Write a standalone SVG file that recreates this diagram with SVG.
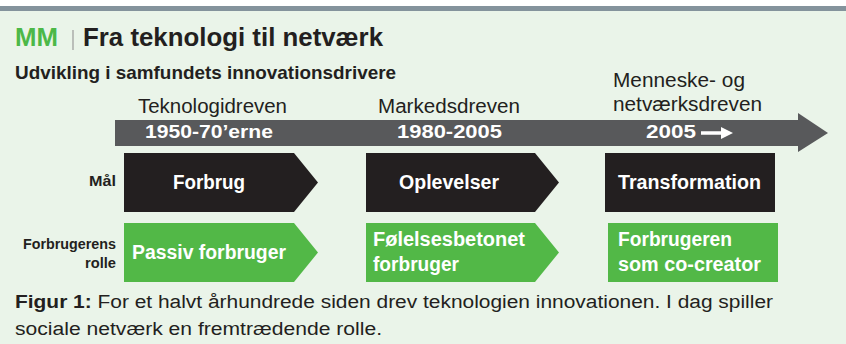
<svg xmlns="http://www.w3.org/2000/svg" width="846" height="344" viewBox="0 0 846 344">
<style>
text{font-family:"Liberation Sans",Arial,sans-serif;}
.dark{fill:#231f20;}
.b{font-weight:bold;}
.era{font-size:20px;fill:#231f20;}
.yr{font-size:19px;fill:#ffffff;font-weight:bold;}
.box{font-size:20px;fill:#ffffff;font-weight:bold;}
.lbl{font-size:14px;fill:#231f20;font-weight:bold;}
.blk{fill:#231f20;}
.grn{fill:#52b847;}
</style>
<rect x="0" y="0" width="846" height="344" fill="#ffffff"/>
<rect x="0" y="11" width="846" height="333" fill="#eaf4e9"/>
<rect x="0" y="6" width="846" height="5" fill="#84939c"/>

<g id="title">
<text x="15" y="46" font-size="25" font-weight="bold" fill="#4cb848" textLength="43" lengthAdjust="spacingAndGlyphs">MM</text>
<line x1="73" y1="30" x2="73" y2="50" stroke="#9a9a9a" stroke-width="1.2"/>
<text x="83" y="46" font-size="26" class="dark b" textLength="300" lengthAdjust="spacingAndGlyphs">Fra teknologi til netværk</text>
<text x="15" y="79" font-size="18.5" class="dark b" textLength="381" lengthAdjust="spacingAndGlyphs">Udvikling i samfundets innovationsdrivere</text>
</g>

<g id="timeline">
<polygon points="115,120 798,120 798,113 828,133 798,152 798,146 115,146" fill="#58595b"/>
<text x="145" y="138" class="yr" textLength="128" lengthAdjust="spacingAndGlyphs">1950-70’erne</text>
<text x="397" y="138" class="yr" textLength="105" lengthAdjust="spacingAndGlyphs">1980-2005</text>
<text x="646" y="138" class="yr" textLength="50" lengthAdjust="spacingAndGlyphs">2005</text>
<line x1="701" y1="133" x2="723" y2="133" stroke="#ffffff" stroke-width="3.5"/>
<polygon points="721,127 733,133 721,139" fill="#ffffff"/>
</g>

<g id="eras">
<text x="138" y="113" class="era" textLength="149" lengthAdjust="spacingAndGlyphs">Teknologidreven</text>
<text x="378" y="113" class="era" textLength="142" lengthAdjust="spacingAndGlyphs">Markedsdreven</text>
<text x="613" y="87" class="era" textLength="132" lengthAdjust="spacingAndGlyphs">Menneske- og</text>
<text x="613" y="111" class="era" textLength="149" lengthAdjust="spacingAndGlyphs">netværksdreven</text>
</g>

<g id="labels">
<text x="89" y="186" class="lbl" textLength="27" lengthAdjust="spacingAndGlyphs">Mål</text>
<text x="23" y="249" class="lbl" textLength="93" lengthAdjust="spacingAndGlyphs">Forbrugerens</text>
<text x="85" y="268" class="lbl" textLength="31" lengthAdjust="spacingAndGlyphs">rolle</text>
</g>

<g id="goal-forbrug">
<polygon class="blk" points="124,153 294,153 318,182.5 294,212 124,212"/>
<text x="173" y="189" class="box" textLength="72" lengthAdjust="spacingAndGlyphs">Forbrug</text>
</g>
<g id="goal-oplevelser">
<polygon class="blk" points="366,153 535,153 559,182.5 535,212 366,212"/>
<text x="399" y="189" class="box" textLength="100" lengthAdjust="spacingAndGlyphs">Oplevelser</text>
</g>
<g id="goal-transformation">
<rect class="blk" x="605" y="153" width="170" height="59"/>
<text x="618" y="189" class="box" textLength="143" lengthAdjust="spacingAndGlyphs">Transformation</text>
</g>

<g id="role-passiv">
<polygon class="grn" points="124,223 294,223 318,252.5 294,282 124,282"/>
<text x="132" y="259" class="box" textLength="154" lengthAdjust="spacingAndGlyphs">Passiv forbruger</text>
</g>
<g id="role-folelses">
<polygon class="grn" points="366,223 535,223 559,252.5 535,282 366,282"/>
<text x="373" y="246" class="box" textLength="152" lengthAdjust="spacingAndGlyphs">Følelsesbetonet</text>
<text x="373" y="271" class="box" textLength="86" lengthAdjust="spacingAndGlyphs">forbruger</text>
</g>
<g id="role-cocreator">
<rect class="grn" x="608" y="223" width="170" height="59"/>
<text x="618" y="246" class="box" textLength="114" lengthAdjust="spacingAndGlyphs">Forbrugeren</text>
<text x="618" y="271" class="box" textLength="143" lengthAdjust="spacingAndGlyphs">som co-creator</text>
</g>

<g id="caption">
<text x="15" y="308" font-size="18" class="dark" textLength="758" lengthAdjust="spacingAndGlyphs"><tspan font-weight="bold">Figur 1:</tspan> For et halvt århundrede siden drev teknologien innovationen. I dag spiller</text>
<text x="15" y="335" font-size="18" class="dark" textLength="367" lengthAdjust="spacingAndGlyphs">sociale netværk en fremtrædende rolle.</text>
</g>
</svg>
